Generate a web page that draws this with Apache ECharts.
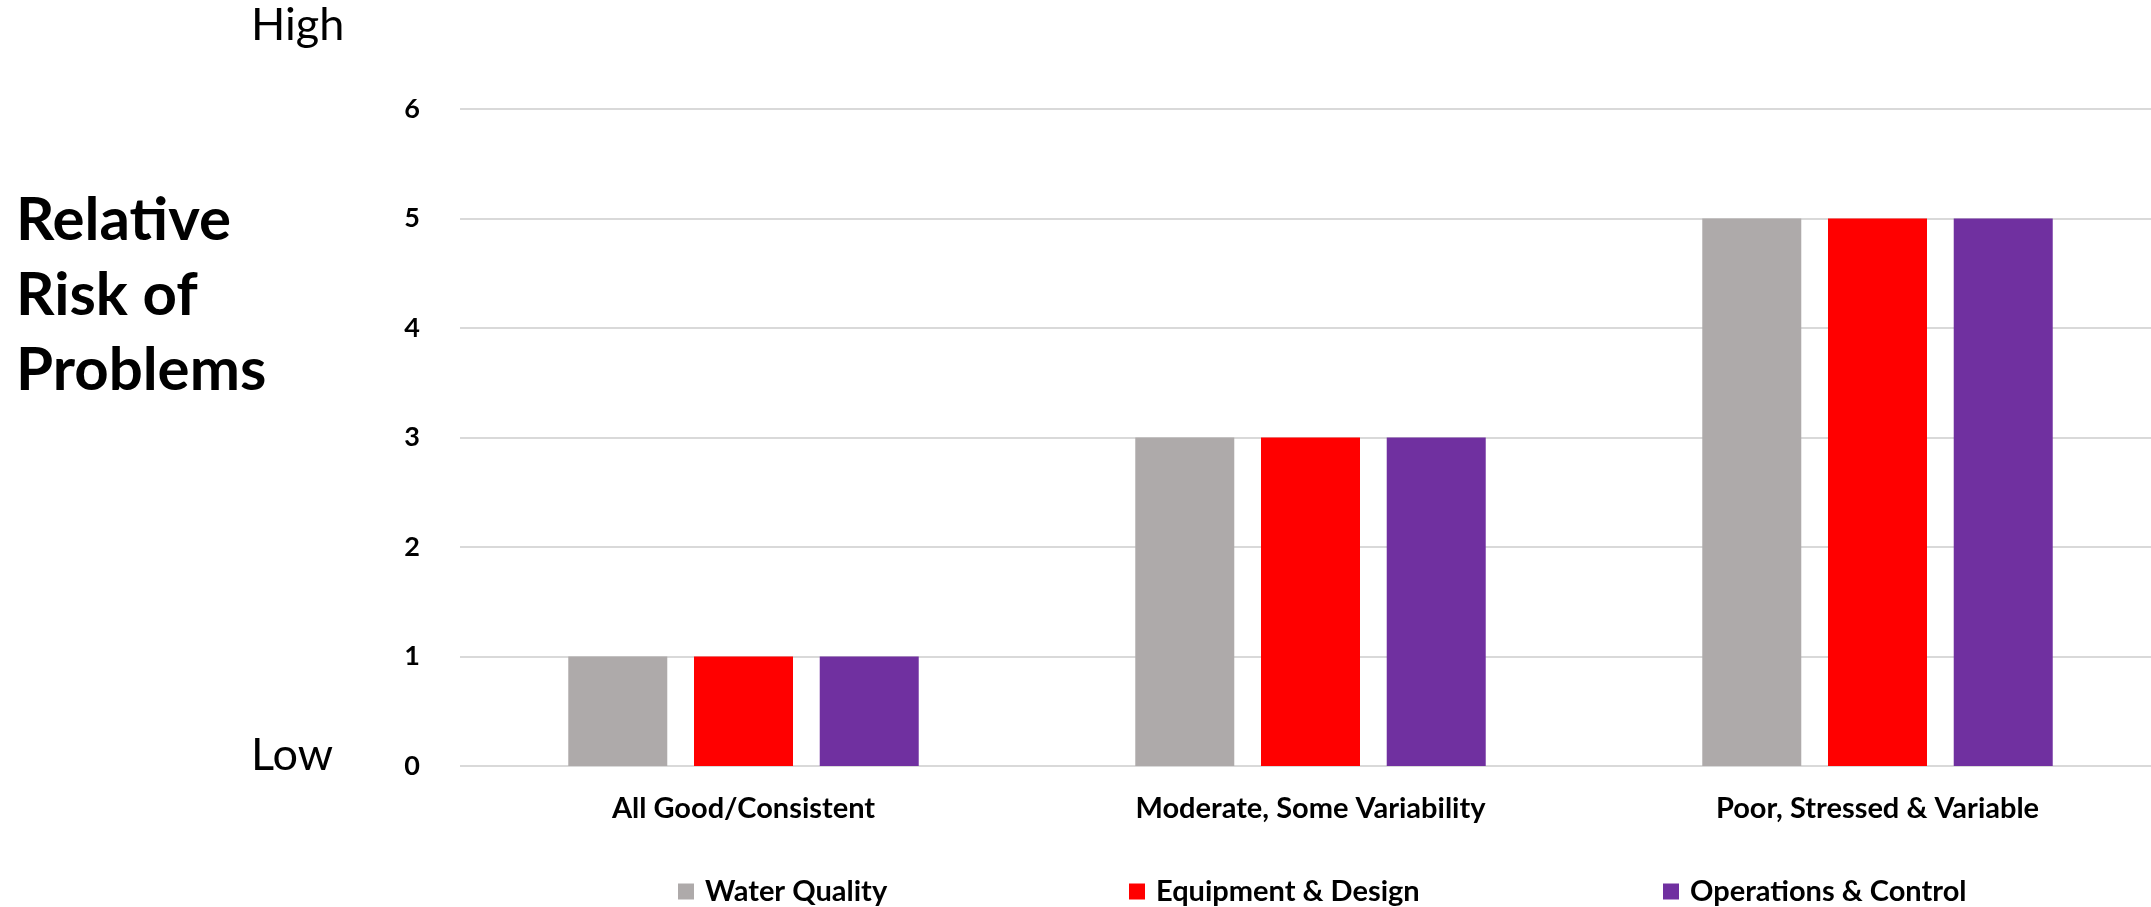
<!DOCTYPE html>
<html><head><meta charset="utf-8">
<script src="https://cdn.jsdelivr.net/npm/echarts@6/dist/echarts.min.js"></script>
<style>html,body{margin:0;padding:0;background:#fff}#c{width:2151px;height:907px}</style>
</head><body><div id="c"></div>
<script>
const categories = ['All Good/Consistent', 'Moderate, Some Variability', 'Poor, Stressed & Variable'];
const waterQuality = [1, 3, 5];
const equipmentDesign = [1, 3, 5];
const operationsControl = [1, 3, 5];
const seriesNames = ['Water Quality', 'Equipment & Design', 'Operations & Control'];
const yTicks = [0, 1, 2, 3, 4, 5, 6];

const FONT = 'Lato';
const chart = echarts.init(document.getElementById('c'));
const colors = ['#AEAAAA', '#FF0000', '#7030A0'];
const mk = (name, data, i) => ({
  name, type: 'bar', data, barWidth: 99, barGap: '27%',
  itemStyle: { color: colors[i] }
});
const legendLefts = [678, 1129, 1663];
chart.setOption({
  animation: false,
  textStyle: { fontFamily: FONT },
  grid: { left: 460, top: 109, height: 657, width: 1701, containLabel: false, outerBoundsMode: 'none' },
  xAxis: {
    type: 'category', data: categories,
    axisLine: { show: false }, axisTick: { show: false },
    axisLabel: { color: '#000', fontWeight: 'bold', fontSize: 29, fontFamily: FONT, margin: 28 }
  },
  yAxis: {
    type: 'value', min: yTicks[0], max: yTicks[yTicks.length - 1], interval: 1,
    axisLine: { show: false }, axisTick: { show: false },
    splitLine: { lineStyle: { color: '#D9D9D9', width: 2 } },
    axisLabel: { color: '#000', fontWeight: 'bold', fontSize: 27, fontFamily: FONT, margin: 40 }
  },
  legend: seriesNames.map((n, i) => ({
    data: [n], left: legendLefts[i], top: 877, padding: 0, icon: 'rect', itemWidth: 16, itemHeight: 16,
    textStyle: { color: '#000', fontWeight: 'bold', fontSize: 29, fontFamily: FONT, padding: [0, 0, 0, 6] }
  })),
  graphic: [
    { type: 'text', left: 251, top: 3, style: { text: 'High', fontSize: 45, fontFamily: FONT, fill: '#000' } },
    { type: 'text', left: 251, top: 733, style: { text: 'Low', fontSize: 45, fontFamily: FONT, fill: '#000' } },
    { type: 'text', left: 16, top: 183, style: { text: 'Relative\nRisk of\nProblems', fontSize: 60, fontWeight: 'bold', lineHeight: 75, fontFamily: FONT, fill: '#000' } }
  ],
  series: [
    mk(seriesNames[0], waterQuality, 0),
    mk(seriesNames[1], equipmentDesign, 1),
    mk(seriesNames[2], operationsControl, 2)
  ]
});
</script></body></html>
